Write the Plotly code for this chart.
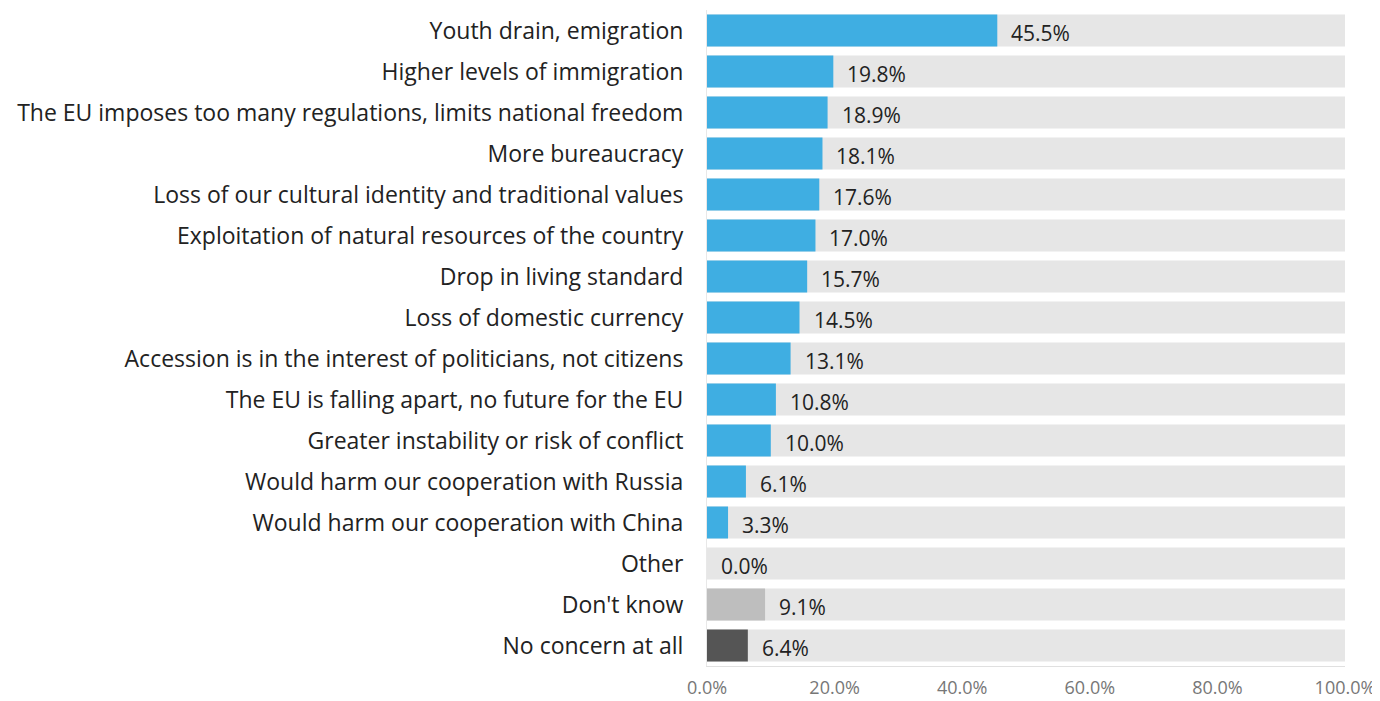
import plotly.graph_objects as go

categories = [
    "Youth drain, emigration",
    "Higher levels of immigration",
    "The EU imposes too many regulations, limits national freedom",
    "More bureaucracy",
    "Loss of our cultural identity and traditional values",
    "Exploitation of natural resources of the country",
    "Drop in living standard",
    "Loss of domestic currency",
    "Accession is in the interest of politicians, not citizens",
    "The EU is falling apart, no future for the EU",
    "Greater instability or risk of conflict",
    "Would harm our cooperation with Russia",
    "Would harm our cooperation with China",
    "Other",
    "Don't know",
    "No concern at all",
]
values = [45.5, 19.8, 18.9, 18.1, 17.6, 17.0, 15.7, 14.5, 13.1, 10.8, 10.0, 6.1, 3.3, 0.0, 9.1, 6.4]
bar_colors = ["#3FAEE2"] * 14 + ["#BEBEBE", "#555555"]
full_scale = [100.0] * len(categories)
tick_vals = [0, 20, 40, 60, 80, 100]
tick_text = ["0.0%", "20.0%", "40.0%", "60.0%", "80.0%", "100.0%"]

FONT = "Open Sans"

fig = go.Figure()
fig.add_trace(go.Bar(
    y=categories, x=full_scale, orientation="h",
    marker=dict(color="#E6E6E6", line=dict(width=0)),
    width=0.78, hoverinfo="skip", showlegend=False,
))
fig.add_trace(go.Bar(
    y=categories, x=values, orientation="h",
    marker=dict(color=bar_colors, line=dict(width=0)),
    width=0.78, showlegend=False,
))

for c, v in zip(categories, values):
    fig.add_annotation(
        x=v, y=c, text=f"{v:.1f}%", showarrow=False,
        xanchor="left", yanchor="middle", xshift=12, yshift=-2,
        font=dict(family=FONT, size=21, color="#222222"),
    )

fig.update_layout(
    width=1372, height=693,
    margin=dict(l=699, r=35, t=2, b=33),
    paper_bgcolor="white", plot_bgcolor="white",
    barmode="overlay",
    font=dict(family=FONT, size=23, color="#222222"),
)
fig.update_xaxes(
    range=[0, 100], tickvals=tick_vals, ticktext=tick_text,
    showgrid=False, zeroline=False,
    showline=True, linecolor="#E0E0E0", linewidth=1,
    tickfont=dict(family=FONT, size=18, color="#777777"),
    ticks="", ticklabelstandoff=5,
)
fig.update_yaxes(
    categoryorder="array", categoryarray=categories, autorange="reversed",
    showgrid=False, zeroline=False,
    showline=True, linecolor="#E8E8E8", linewidth=1,
    tickfont=dict(family=FONT, size=23, color="#222222"),
    ticks="", ticklabelstandoff=18,
)

fig.write_html("out.html")
